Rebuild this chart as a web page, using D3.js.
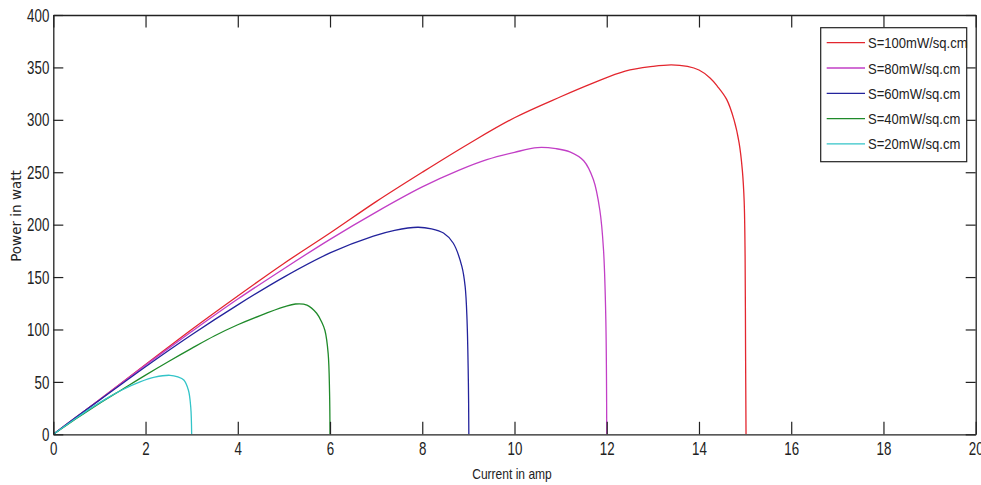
<!DOCTYPE html>
<html>
<head>
<meta charset="utf-8">
<script src="https://cdn.jsdelivr.net/npm/d3@7"></script>
<style>
  body { margin: 0; background: #fff; }
  svg { display: block; background: #fff; }
</style>
</head>
<body>
<svg></svg>
<script>
/* P-I curves of a PV module for several insolation levels */
var w = 981, h = 485;

// [current (A), power (W)]
var s100 = [[0,0],[0.5,16.5],[1,33],[2,66.5],[3,100],[4,132],[5,163],[6,192],[7,222],[8,250],[9,277],[10,302],[11,322],[11.7,335],[12.4,346.5],[13,351],[13.4,352.5],[13.75,351],[14.0,347.5],[14.24,340],[14.4,332],[14.6,319.5],[14.76,300],[14.87,278],[14.94,252],[14.98,222],[15.0,170],[15.01,80],[15.02,0]];
var s80 = [[0,0],[0.5,16.5],[1,33],[2,66],[3,98],[4,129],[5,158],[6,186],[7,212],[8,236],[8.8,252],[9.4,262],[10,269],[10.5,273.5],[10.9,272.5],[11.2,269.5],[11.5,261],[11.71,243],[11.85,214],[11.93,176],[11.98,110],[12.0,0]];
var s60 = [[0,0],[0.5,16.5],[1,32.5],[2,64.5],[3,95],[4,123.5],[5,150],[6,173],[6.94,189],[7.4,194.5],[7.9,197.5],[8.2,196],[8.46,192],[8.67,182.5],[8.86,160],[8.93,141],[8.97,110],[9.0,50],[9.01,0]];
var s40 = [[0,0],[0.5,15],[1,29.5],[1.5,43],[2,56.5],[2.5,69.5],[3,82],[3.5,94],[4,104.5],[4.5,113.5],[5,121.5],[5.25,124.3],[5.5,123.3],[5.71,115.5],[5.82,107],[5.89,99],[5.96,77],[5.99,40],[6.0,0]];
var s20 = [[0,0],[0.44,13.6],[0.8,24.5],[1.16,34.3],[1.5,42.5],[1.88,50],[2.2,54.5],[2.53,56.3],[2.7,54.8],[2.83,51.8],[2.93,42],[2.98,26],[3.0,0]];

var seriesLabels = ["S=100mW/sq.cm", "S=80mW/sq.cm", "S=60mW/sq.cm", "S=40mW/sq.cm", "S=20mW/sq.cm"];
var xTicks = [0, 2, 4, 6, 8, 10, 12, 14, 16, 18, 20];
var yTicks = [0, 50, 100, 150, 200, 250, 300, 350, 400];

var series = [s100, s80, s60, s40, s20];
var colors = ["#e3262e", "#c23fc6", "#23239c", "#1f8a2a", "#33c4c8"];

var plotL = 53.3, plotR = 975.7, plotT = 15, plotB = 434.3;
var sx = 0.74; // squeeze for the narrow matlab digits

var svg = d3.select("svg")
            .attr("width", w)
            .attr("height", h);

var x = d3.scaleLinear().domain([0, 20]).range([plotL, plotR]);
var y = d3.scaleLinear().domain([0, 400]).range([plotB, plotT]);

svg.append("defs").append("clipPath").attr("id", "plot")
   .append("rect")
   .attr("x", plotL).attr("y", plotT)
   .attr("width", plotR - plotL).attr("height", plotB - plotT);

// curves
var line = d3.line()
             .x(function(d) { return x(d[0]); })
             .y(function(d) { return y(d[1]); })
             .curve(d3.curveCatmullRom.alpha(0.5));

svg.append("g")
   .attr("clip-path", "url(#plot)")
   .selectAll("path")
   .data(series)
   .enter()
   .append("path")
   .attr("d", line)
   .attr("fill", "none")
   .attr("stroke", function(d, i) { return colors[i]; })
   .attr("stroke-width", 1.3);

// box + inward ticks, matlab style
var xAxisB = d3.axisBottom(x).tickValues(xTicks).tickSizeInner(-12.5).tickSizeOuter(0).tickPadding(8);
var xAxisT = d3.axisTop(x).tickValues(xTicks).tickSizeInner(-12.5).tickSizeOuter(0).tickFormat("");
var yAxisL = d3.axisLeft(y).tickValues(yTicks).tickSizeInner(-10).tickSizeOuter(0).tickPadding(5);
var yAxisR = d3.axisRight(y).tickValues(yTicks).tickSizeInner(-10).tickSizeOuter(0).tickFormat("");

var gxB = svg.append("g").attr("transform", "translate(0," + plotB + ")").call(xAxisB);
svg.append("g").attr("transform", "translate(0," + plotT + ")").call(xAxisT);
var gyL = svg.append("g").attr("transform", "translate(" + plotL + ",0)").call(yAxisL);
svg.append("g").attr("transform", "translate(" + plotR + ",0)").call(yAxisR);

svg.selectAll(".domain").attr("stroke", "#222").attr("stroke-width", 1.3);
svg.selectAll(".tick line").attr("stroke", "#222").attr("stroke-width", 1.2);

gxB.selectAll(".tick text")
   .attr("font-family", "Liberation Sans, Arial, sans-serif")
   .attr("font-size", 18)
   .attr("fill", "#222")
   .attr("y", 8)
   .attr("dy", "0.71em")
   .attr("transform", "scale(" + sx + ",1)");

gyL.selectAll(".tick text")
   .attr("font-family", "Liberation Sans, Arial, sans-serif")
   .attr("font-size", 18)
   .attr("fill", "#222")
   .attr("x", -4 / sx)
   .attr("dy", "0.34em")
   .attr("transform", "scale(" + sx + ",1)");

// axis titles
svg.append("text")
   .attr("transform", "translate(512,479) scale(0.86,1)")
   .attr("text-anchor", "middle")
   .attr("font-family", "Liberation Sans, Arial, sans-serif")
   .attr("font-size", 14)
   .attr("fill", "#222")
   .text("Current in amp");

svg.append("text")
   .attr("transform", "translate(21,216) rotate(-90)")
   .attr("text-anchor", "middle")
   .attr("font-family", "DejaVu Sans, sans-serif")
   .attr("font-size", 13.5)
   .attr("fill", "#222")
   .text("Power in watt");

// legend
var legend = svg.append("g");
legend.append("rect")
      .attr("x", 820.7).attr("y", 27.7)
      .attr("width", 146).attr("height", 134)
      .attr("fill", "#fff")
      .attr("stroke", "#222")
      .attr("stroke-width", 1.2);

var item = legend.selectAll("g.item")
                 .data(seriesLabels)
                 .enter()
                 .append("g")
                 .attr("class", "item")
                 .attr("transform", function(d, i) { return "translate(0," + (42.7 + i * 25.3) + ")"; });

item.append("line")
    .attr("x1", 826.7).attr("x2", 865)
    .attr("y1", 0).attr("y2", 0)
    .attr("stroke", function(d, i) { return colors[i]; })
    .attr("stroke-width", 1.3);

item.append("text")
    .attr("transform", "translate(868,5.5) scale(0.9,1)")
    .attr("font-family", "Liberation Sans, Arial, sans-serif")
    .attr("font-size", 14.5)
    .attr("fill", "#222")
    .text(function(d) { return d; });
</script>
</body>
</html>
